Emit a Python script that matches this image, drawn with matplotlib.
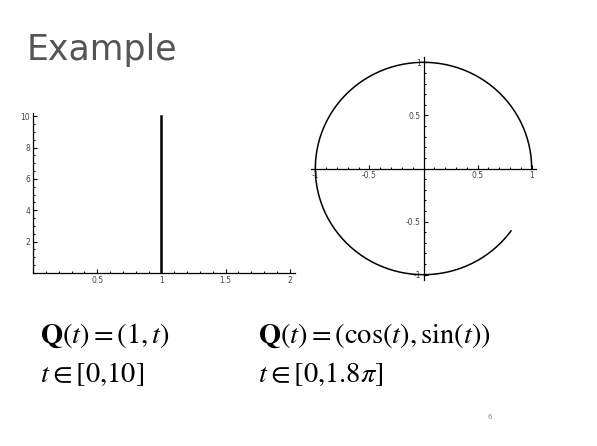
import matplotlib.pyplot as plt
from matplotlib.ticker import FixedLocator, MultipleLocator
import numpy as np

plt.rcParams['mathtext.fontset'] = 'stix'

# left curve: Q(t) = (1, t), t in [0, 10]
line_t = np.array([0.0, 10.0])
line_x = np.array([1.0, 1.0])

# right curve: Q(t) = (cos t, sin t), t in [0, 1.8 pi]
arc_t = np.linspace(0, 1.8 * np.pi, 200)

left_xticks = [0.5, 1, 1.5, 2]
left_xlabels = ['0.5', '1', '1.5', '2']
left_yticks = [2, 4, 6, 8, 10]
left_ylabels = ['2', '4', '6', '8', '10']
right_ticks = [-1, -0.5, 0.5, 1]
right_labels = ['-1', '-0.5', '0.5', '1']

W, H = 597, 446
fig = plt.figure(figsize=(W / 100, H / 100), dpi=100)


def px_axes(x0, y0, x1, y1):
    # axes placed from pixel box (top-left origin)
    return fig.add_axes([x0 / W, 1 - y1 / H, (x1 - x0) / W, (y1 - y0) / H])


def mma_axes(ax):
    for side in ['top', 'right']:
        ax.spines[side].set_visible(False)
    for side in ['left', 'bottom']:
        ax.spines[side].set_position(('data', 0))
        ax.spines[side].set_linewidth(0.9)
    ax.tick_params(which='major', direction='in', length=3, width=0.8,
                   labelsize=5.5, labelcolor='#444444', pad=2)
    ax.tick_params(which='minor', direction='in', length=1.5, width=0.8)
    ax.patch.set_alpha(0)


ax1 = px_axes(33, 113, 295, 273)
ax1.plot(line_x, line_t, color='black', lw=1.8)
ax1.set_xlim(0, 2.04)
ax1.set_ylim(0, 10.2)
mma_axes(ax1)
ax1.set_xticks(left_xticks, left_xlabels)
ax1.set_yticks(left_yticks, left_ylabels)
ax1.xaxis.set_minor_locator(MultipleLocator(0.1))
ax1.yaxis.set_minor_locator(MultipleLocator(0.5))

ax2 = px_axes(311, 57, 536, 280)
ax2.plot(np.cos(arc_t), np.sin(arc_t), color='black', lw=1.1)
ax2.set_xlim(-1.04, 1.04)
ax2.set_ylim(-1.05, 1.05)
mma_axes(ax2)
ax2.set_xticks(right_ticks, right_labels)
ax2.set_yticks(right_ticks, right_labels)
ax2.xaxis.set_minor_locator(FixedLocator(np.arange(-1.0, 1.01, 0.1)))
ax2.yaxis.set_minor_locator(FixedLocator(np.arange(-1.0, 1.01, 0.1)))

fig.text(27 / W, 1 - 50 / H, 'Example', fontsize=25, color='#555555',
         family='DejaVu Sans', va='center', ha='left')

eq = dict(fontsize=20.5, color='black', ha='left', va='baseline')
fig.text(40 / W, 1 - 343 / H, r'$\mathbf{Q}(t) = (1,t)$', **eq)
fig.text(40 / W, 1 - 382 / H, r'$t \in [0{,}10]$', **eq)
fig.text(258 / W, 1 - 343 / H, r'$\mathbf{Q}(t) = (\cos(t),\sin(t))$', **eq)
fig.text(258 / W, 1 - 382 / H, r'$t \in [0{,}1.8\pi]$', **eq)

fig.text(488 / W, 1 - 417 / H, '6', fontsize=5, color='#888888',
         ha='left', va='center')

fig.savefig('out.png', dpi=100)
